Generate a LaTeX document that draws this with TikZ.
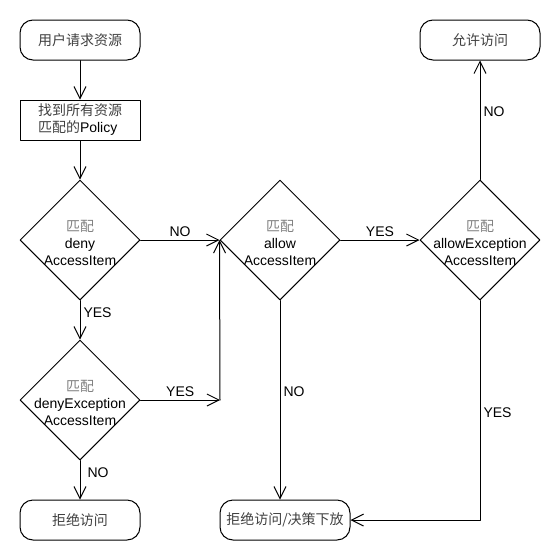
\documentclass[tikz,border=0pt]{standalone}
\usepackage{fontspec}
\setmainfont{Liberation Sans}
\newfontfamily\cjk{Noto Sans CJK SC}
\usepackage{tikz}
\usetikzlibrary{shapes,arrows.meta}
\tikzstyle{every node}=[font=\fontsize{14}{17}\selectfont]
\tikzstyle{every path}=[line width=1pt,line cap=round,line join=round]
\tikzstyle{term}=[draw,rounded corners=13pt,minimum width=120pt,minimum height=40pt,inner sep=0pt]
\tikzstyle{proc}=[draw,minimum width=120pt,minimum height=40pt,inner sep=0pt]
\tikzstyle{decision}=[draw,diamond,minimum width=120pt,minimum height=120pt,inner sep=0pt]
\tikzstyle{flow}=[-{Straight Barb[length=12pt,width=12pt]}]
\tikzstyle{lbl}=[inner sep=3pt]
\newcommand{\pp}{{\cjk\color{black!50}匹配}}
\newcommand{\zh}[1]{{\cjk\color{black!75}#1}}
\begin{document}
\begin{tikzpicture}[x=1pt,y=-1pt]
\useasboundingbox (0,0) rectangle (560,560);

% left column
\node[term] (start) at (80,40) {\zh{用户请求资源}};
\node[proc,align=left] (policy) at (80,120) {\zh{找到所有资源}\\\zh{匹配的}Policy};
\node[decision] (deny) at (80,240) {};
\node[align=center] (denyt) at (80,243) {\pp\\deny\\AccessItem};
\node[decision] (denyex) at (80,400) {};
\node[align=center] (denyext) at (80,403) {\pp\\denyException\\AccessItem};
\node[term] (reject) at (80,520) {\zh{拒绝访问}};

% middle and right
\node[decision] (allow) at (280,240) {};
\node[align=center] (allowt) at (280,243) {\pp\\allow\\AccessItem};
\node[decision] (allowex) at (480,240) {};
\node[align=center] (allowext) at (480,243) {\pp\\allowException\\AccessItem};
\node[term] (permit) at (480,40) {\zh{允许访问}};
\node[term,minimum width=130pt] (delegate) at (285,520) {\zh{拒绝访问/决策下放}};
\coordinate (join) at (220,400);

\draw[flow] (start) -- (policy);
\draw[flow] (policy) -- (deny);
\draw[flow] (deny) -- node[lbl,right,pos=0.3] {YES} (denyex);
\draw[flow] (denyex) -- node[lbl,right,pos=0.3,xshift=4pt] {NO} (reject);
\draw[flow] (deny) -- node[lbl,above] {NO} (allow);
\draw[flow] (denyex) -- node[lbl,above] {YES} (join);
\draw[flow] (join) -- (allow.west);
\draw[flow] (allow) -- node[lbl,above] {YES} (allowex);
\draw[flow] (allow) -- node[lbl,right,pos=0.46] {NO} (allow |- delegate.north);
\draw[flow] (allowex) -- node[lbl,right,pos=0.57] {NO} (permit);
\draw[flow] (allowex) |- node[lbl,right,pos=0.255] {YES} (delegate);
\end{tikzpicture}
\end{document}
